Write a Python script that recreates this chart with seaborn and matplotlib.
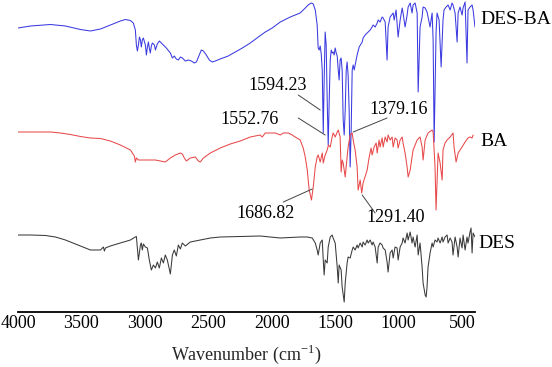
import numpy as np
import pandas as pd
import matplotlib
matplotlib.use("Agg")
import matplotlib.pyplot as plt
import seaborn as sns

# ---------------- data (wavenumber cm-1, transmittance a.u. with offsets) -------------
des_ba_wn = [4000, 3902, 3744, 3626, 3508, 3429, 3350, 3272, 3193, 3154, 3114, 3091, 3075,
             3067, 3059, 3051, 3043, 3035, 3028, 3020, 3012, 2996, 2988, 2980, 2972, 2965,
             2957, 2949, 2941, 2925, 2917, 2902, 2886, 2870, 2854, 2831, 2799, 2783, 2768,
             2752, 2736, 2720, 2705, 2681, 2657, 2634, 2610, 2594, 2571, 2555, 2539, 2516,
             2492, 2469, 2445, 2406, 2343, 2287, 2232, 2169, 2106, 2051, 1996, 1933, 1854,
             1776, 1736, 1713, 1689, 1673, 1657, 1642, 1634, 1626, 1618, 1610, 1602, 1594,
             1587, 1579, 1571, 1563, 1555, 1547, 1539, 1531, 1524, 1516, 1508, 1500, 1492,
             1484, 1476, 1469, 1461, 1453, 1445, 1437, 1429, 1421, 1413, 1406, 1398, 1390,
             1382, 1374, 1366, 1358, 1350, 1335, 1327, 1311, 1287, 1280, 1264, 1248, 1240,
             1224, 1209, 1201, 1185, 1169, 1161, 1146, 1130, 1122, 1106, 1091, 1083, 1067,
             1043, 1035, 1020, 1004, 988, 972, 965, 949, 933, 925, 909, 894, 886, 870, 854,
             846, 831, 815, 807, 791, 776, 768, 752, 736, 728, 720, 705, 697, 681, 665, 650,
             642, 626, 610, 594, 579, 571, 555, 539, 531, 516, 500, 492, 476, 461, 453, 437,
             421, 413, 398]
des_ba_t = [284, 286, 287.5, 286, 282.5, 281, 283, 287, 291, 292.5, 291.5, 289, 282,
            267, 261, 267, 275, 272, 265, 272, 274, 267, 257, 265, 270, 264,
            259, 266, 269, 267, 262, 268, 271, 269, 267, 264, 259, 254, 256,
            253, 252, 255, 254, 251, 252, 251, 249, 250, 257, 262, 261, 257,
            252, 250, 251, 253, 256, 260, 264, 269, 275, 280, 284, 290, 295,
            299, 304, 307, 309, 308, 302, 287, 264, 262, 266, 258, 242, 179,
            232, 280, 267, 212, 167, 212, 252, 262, 259, 260, 257, 264, 259,
            256, 242, 232, 252, 254, 242, 192, 177, 202, 242, 250, 237, 202,
            145, 182, 242, 247, 242, 252, 257, 265, 270, 274, 277, 279, 280,
            282, 285, 287, 285, 289, 292, 290, 295, 294, 290, 252, 285, 295,
            299, 292, 302, 275, 292, 304, 299, 285, 297, 305, 309, 299, 307, 309, 299,
            220, 285, 295, 305, 304, 300, 295, 285, 299, 272, 170, 279, 299, 292, 245, 292,
            302, 305, 307, 302, 309, 307, 299, 270, 299, 305, 297, 304, 310, 249, 302, 305,
            307, 302, 285]

ba_wn = [4000, 3902, 3744, 3665, 3587, 3508, 3429, 3350, 3272, 3193, 3114, 3083, 3075,
         3067, 3051, 2996, 2917, 2878, 2839, 2799, 2760, 2720, 2705, 2689, 2673, 2642,
         2602, 2579, 2563, 2539, 2484, 2406, 2327, 2248, 2169, 2091, 2075, 2051, 2012,
         1972, 1933, 1909, 1870, 1839, 1815, 1776, 1752, 1736, 1720, 1705, 1687, 1673,
         1657, 1642, 1634, 1618, 1602, 1594, 1579, 1563, 1553, 1539, 1524, 1516, 1500,
         1484, 1476, 1461, 1453, 1445, 1437, 1421, 1406, 1398, 1382, 1366, 1358, 1343,
         1327, 1319, 1303, 1291, 1280, 1248, 1232, 1217, 1209, 1193, 1177, 1169, 1154,
         1146, 1130, 1122, 1106, 1091, 1083, 1067, 1051, 1043, 1028, 1012, 1004, 988,
         972, 965, 949, 933, 925, 909, 886, 854, 831, 815, 807, 791, 768, 736, 728, 713,
         705, 697, 689, 673, 657, 650, 634, 618, 594, 571, 563, 547, 531, 500, 476, 453,
         437, 421, 413]
ba_t = [180, 180, 180, 179, 177.5, 175.5, 174, 173.5, 171, 167, 162, 156, 150,
        154, 152, 152, 152, 151, 150, 154, 157, 159, 158, 154, 151, 154,
        155, 151, 150, 154, 159, 164, 168, 171, 175, 177, 175, 179, 179,
        179, 177, 179, 179, 177, 175, 172, 164, 155, 142, 122, 112, 125,
        145, 155, 157, 150, 159, 149, 157, 162, 167, 165, 175, 179, 175,
        180, 182, 175, 140, 152, 149, 135, 155, 165, 177, 179, 172, 162,
        145, 122, 132, 119, 129, 142, 155, 164, 157, 165, 169, 159, 172,
        165, 174, 165, 175, 170, 177, 172, 175, 165, 174, 172, 164, 172,
        175, 169, 159, 145, 135, 142, 162, 172, 175, 165, 152, 172, 179, 182, 180, 145,
        102, 129, 159, 149, 132, 162, 169, 172, 175, 179, 165, 150, 159, 165, 170, 174,
        175, 174, 177]

des_wn = [4000, 3902, 3783, 3705, 3626, 3547, 3469, 3429, 3350, 3327, 3319, 3311, 3272,
          3193, 3114, 3075, 3067, 3051, 3035, 3028, 3020, 3012, 2996, 2980, 2965, 2949,
          2933, 2917, 2902, 2886, 2870, 2854, 2839, 2823, 2799, 2783, 2768, 2752, 2736,
          2720, 2705, 2681, 2642, 2563, 2484, 2406, 2248, 2091, 1933, 1776, 1720, 1681,
          1657, 1642, 1634, 1618, 1602, 1594, 1587, 1579, 1563, 1555, 1539, 1524, 1516,
          1500, 1484, 1476, 1469, 1453, 1445, 1429, 1421, 1406, 1398, 1382, 1366, 1358,
          1343, 1327, 1319, 1303, 1287, 1280, 1264, 1248, 1240, 1224, 1209, 1201, 1185,
          1169, 1161, 1146, 1130, 1122, 1106, 1091, 1083, 1067, 1051, 1043, 1028, 1012,
          1004, 988, 972, 965, 949, 933, 925, 909, 894, 886, 870, 854, 846, 831, 815, 807,
          791, 783, 776, 768, 752, 736, 728, 713, 697, 689, 673, 657, 650, 634, 618, 610,
          594, 579, 571, 555, 539, 531, 516, 500, 492, 476, 461, 453, 437, 429, 421, 413,
          398]
des_t = [77, 77, 76.5, 75, 72, 68, 64, 62, 62, 65, 61, 64, 66,
         69, 72, 75, 75.5, 52, 67, 69, 62, 68, 65, 64, 52, 42,
         47, 44, 50, 44, 54, 49, 57, 52, 38, 57, 62, 56, 67,
         63, 69, 66, 70, 72, 74, 75, 75.5, 76, 74, 75, 75, 74,
         69, 62, 57, 69, 72, 52, 37, 52, 49, 65, 75, 77, 74,
         69, 45, 29, 47, 42, 25, 10, 29, 49, 55, 54, 62, 65,
         62, 67, 64, 69, 65, 70, 67, 72, 69, 72, 67, 70, 65,
         49, 65, 69, 67, 64, 62, 50, 40, 59, 62, 54, 65, 64,
         52, 65, 69, 74, 69, 79, 72, 80, 69, 75, 65, 77, 57, 69, 45, 29,
         17, 15, 25, 45, 59, 69, 65, 72, 70, 74, 69, 75, 70, 75, 77, 69,
         74, 70, 57, 75, 65, 55, 74, 64, 77, 62, 75, 69, 80, 84, 59, 79,
         75]

series_names = ["DES-BA", "BA", "DES"]
series_colors = {"DES-BA": "#3a3ae0", "BA": "#e8494a", "DES": "#3a3a3a"}

peak_labels = ["1594.23", "1552.76", "1379.16", "1686.82", "1291.40"]
peak_targets = [(1618, 202), (1579, 177), (1358, 180), (1681, 123), (1287, 117)]
peak_line_starts = [(1791, 217), (1791, 194), (1091, 194), (1909, 110), (1185, 99)]
peak_text_pos = [(1957, 227), (2177, 192), (996, 202), (2051, 99), (1020, 94)]

xticks = [4000, 3500, 3000, 2500, 2000, 1500, 1000, 500]

# ---------------- build frame -------------
df = pd.concat([
    pd.DataFrame({"wn": des_ba_wn, "T": des_ba_t, "sample": "DES-BA"}),
    pd.DataFrame({"wn": ba_wn, "T": ba_t, "sample": "BA"}),
    pd.DataFrame({"wn": des_wn, "T": des_t, "sample": "DES"}),
], ignore_index=True)

sns.set_theme(style="white")
plt.rcParams["font.family"] = ["Liberation Serif", "DejaVu Serif"]
plt.rcParams["mathtext.fontset"] = "custom"
plt.rcParams["mathtext.rm"] = "Liberation Serif"

fig = plt.figure(figsize=(5.52, 3.67), dpi=100)
ax = fig.add_axes([18 / 552, 55 / 367, 457 / 552, 312 / 367])

sns.lineplot(data=df, x="wn", y="T", hue="sample", palette=series_colors,
             hue_order=series_names, estimator=None, linewidth=0.75,
             legend=False, ax=ax)

ax.set_xlim(4000, 398)
ax.set_ylim(0, 312)
ax.set_xticks(xticks)
ax.set_xticklabels([str(t) for t in xticks], fontsize=13)
ax.set_yticks([])
ax.tick_params(axis="x", length=0, pad=2, colors="black")
ax.set_xlabel("Wavenumber (cm$^{\\mathregular{-1}}$)", fontsize=13, labelpad=8)
ax.set_ylabel("")
for s in ["left", "top", "right"]:
    ax.spines[s].set_visible(False)
ax.spines["bottom"].set_color("black")
ax.spines["bottom"].set_linewidth(1.3)

# series labels
label_pos = {"DES-BA": (358, 292), "BA": (358, 170), "DES": (374, 69)}
for name in series_names:
    xx, yy = label_pos[name]
    ax.text(xx, yy, name, fontsize=14, ha="left", va="center", clip_on=False,
            color="black")

# peak annotations
for lab, tgt, st, tp in zip(peak_labels, peak_targets, peak_line_starts, peak_text_pos):
    ax.annotate("", xy=tgt, xytext=st,
                arrowprops=dict(arrowstyle="-", color="#444444", lw=0.7,
                                shrinkA=0, shrinkB=0))
    ax.text(tp[0], tp[1], lab, fontsize=13, ha="center", va="center", color="black")

fig.savefig("out.png", dpi=100)
